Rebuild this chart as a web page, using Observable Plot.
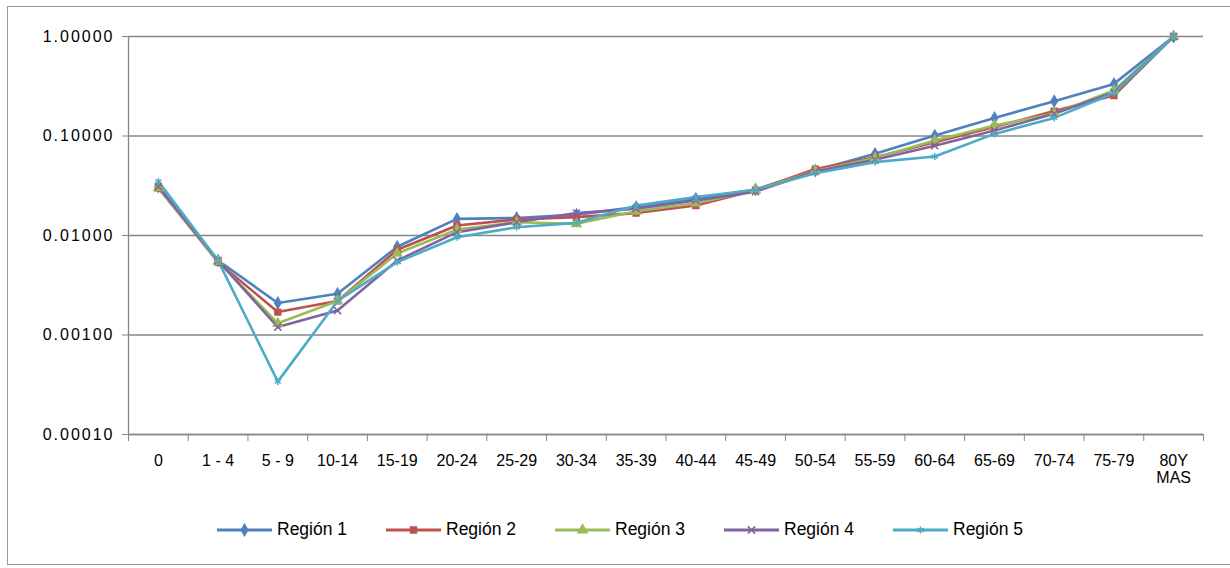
<!DOCTYPE html>
<html>
<head>
<meta charset="utf-8">
<script src="https://cdn.jsdelivr.net/npm/d3@7"></script>
<script src="https://cdn.jsdelivr.net/npm/@observablehq/plot@0.6"></script>
<style>
  body { margin: 0; background: #fff; }
  #wrap { position: relative; width: 1230px; height: 568px; overflow: hidden; background: #fff; }
  #frame { position: absolute; left: 7px; top: 6px; width: 1240px; height: 559px; border: 1.5px solid #9a9a9a; box-sizing: border-box; }
  #chart { position: absolute; left: 0; top: 0; }
  #legend { position: absolute; left: 217px; top: 519px; display: flex; font-family: "Liberation Sans", Arial, sans-serif; font-size: 17.5px; color: #000; }
  .item { display: flex; align-items: center; width: 169px; }
  .item svg { margin-right: 5px; }
</style>
</head>
<body>
<div id="wrap">
  <div id="frame"></div>
  <div id="chart"></div>
  <div id="legend"></div>
</div>
<script>
const ageGroups = ["0","1 - 4","5 - 9","10-14","15-19","20-24","25-29","30-34","35-39","40-44","45-49","50-54","55-59","60-64","65-69","70-74","75-79","80Y\nMAS"];
const seriesNames = ["Región 1","Región 2","Región 3","Región 4","Región 5"];
const seriesColors = ["#4F81BD","#C0504D","#9BBB59","#8064A2","#4BACC6"];
const seriesSymbols = ["diamond","square","triangle","times","asterisk"];
const yTicks = [0.0001, 0.001, 0.01, 0.1, 1];

const region1 = [0.031, 0.0056, 0.0021, 0.0026, 0.0077, 0.0147, 0.0150, 0.0162, 0.0193, 0.0234, 0.0290, 0.0450, 0.0662, 0.1010, 0.1520, 0.2240, 0.3340, 1.0];
const region2 = [0.030, 0.0054, 0.0017, 0.0022, 0.0072, 0.0126, 0.0145, 0.0153, 0.0168, 0.0200, 0.0285, 0.0465, 0.0612, 0.0867, 0.1230, 0.1780, 0.2550, 1.0];
const region3 = [0.030, 0.0055, 0.00131, 0.0022, 0.0066, 0.0115, 0.0136, 0.0131, 0.0175, 0.0211, 0.0285, 0.0445, 0.0600, 0.0900, 0.1275, 0.1680, 0.2870, 1.0];
const region4 = [0.031, 0.0056, 0.0012, 0.00176, 0.0056, 0.0108, 0.0136, 0.0168, 0.0186, 0.0225, 0.0276, 0.0440, 0.0577, 0.0800, 0.1136, 0.1670, 0.2750, 1.0];
const region5 = [0.035, 0.0056, 0.00034, 0.0022, 0.0054, 0.0096, 0.0121, 0.0134, 0.0200, 0.0243, 0.0288, 0.0423, 0.0546, 0.0622, 0.1050, 0.1520, 0.2690, 1.0];

const seriesValues = [region1, region2, region3, region4, region5];
const rows = [];
seriesValues.forEach((vals, s) => vals.forEach((v, i) => rows.push({series: seriesNames[s], i, value: v})));

const boundaries = d3.range(-0.5, ageGroups.length, 1);
const centers = d3.range(ageGroups.length);
const gray = "#868686";

const chart = Plot.plot({
  width: 1230,
  height: 500,
  marginLeft: 128,
  marginRight: 27,
  marginTop: 36,
  marginBottom: 66,
  style: { fontFamily: "Liberation Sans, Arial, sans-serif", color: "#000", background: "transparent", overflow: "visible" },
  x: { type: "linear", domain: [-0.5, ageGroups.length - 0.5], axis: null },
  y: { type: "log", domain: [0.0001, 1], axis: null },
  color: { domain: seriesNames, range: seriesColors },
  symbol: { domain: seriesNames, range: seriesSymbols },
  marks: [
    Plot.gridY(yTicks, { stroke: gray, strokeOpacity: 1, strokeWidth: 1.3 }),
    Plot.ruleX([-0.5], { stroke: gray, strokeWidth: 1.3 }),
    Plot.ruleY([0.0001], { stroke: gray, strokeWidth: 1.3 }),
    Plot.axisY({ ticks: yTicks, label: null, tickFormat: d3.format(".5f"), tickSize: 6, tickPadding: 8, stroke: gray, strokeOpacity: 1, fontSize: 16, fill: "#000" }),
    Plot.axisX({ ticks: boundaries, label: null, tickFormat: () => "", tickSize: 7, stroke: gray, strokeOpacity: 1 }),
    Plot.axisX({ ticks: centers, label: null, tickFormat: i => ageGroups[i], tickSize: 0, tickPadding: 20, fontSize: 16, fill: "#000", lineHeight: 1.05 }),
    Plot.line(rows, { x: "i", y: "value", stroke: "series", z: "series", strokeWidth: 2.6 }),
    Plot.dot(rows, { x: "i", y: "value", symbol: "series", stroke: "series", fill: "series", r: 3.3, strokeWidth: 1.5 })
  ]
});

d3.select(chart).selectAll('g[aria-label="y-axis tick label"] text').attr("letter-spacing", "2px");
document.getElementById("chart").appendChild(chart);

// legend
const legend = document.getElementById("legend");
const symMap = { diamond: d3.symbolDiamond, square: d3.symbolSquare, triangle: d3.symbolTriangle, times: d3.symbolTimes, asterisk: d3.symbolAsterisk };
seriesNames.forEach((name, s) => {
  const item = document.createElement("div");
  item.className = "item";
  const sw = d3.create("svg").attr("width", 55).attr("height", 14);
  sw.append("line").attr("x1", 0).attr("x2", 55).attr("y1", 7).attr("y2", 7)
    .attr("stroke", seriesColors[s]).attr("stroke-width", 3);
  sw.append("path").attr("transform", "translate(27.5,7)")
    .attr("d", d3.symbol(symMap[seriesSymbols[s]], 36)())
    .attr("fill", seriesColors[s]).attr("stroke", seriesColors[s]).attr("stroke-width", 1.5);
  item.appendChild(sw.node());
  const t = document.createElement("span");
  t.textContent = name;
  item.appendChild(t);
  legend.appendChild(item);
});
</script>
</body>
</html>
